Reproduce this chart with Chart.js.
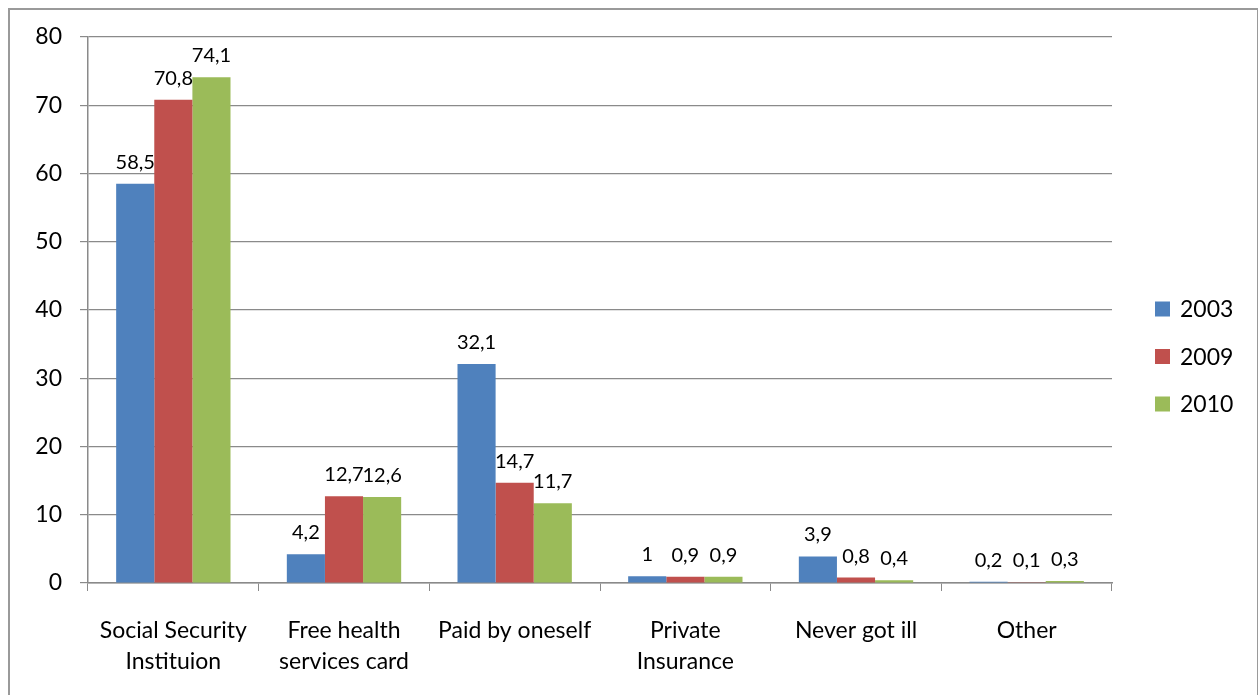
<!DOCTYPE html>
<html>
<head>
<meta charset="utf-8">
<script src="https://cdn.jsdelivr.net/npm/chart.js@4/dist/chart.umd.min.js"></script>
<style>
  body { margin: 0; background: #fff; }
  #wrap { position: relative; width: 1258px; height: 695px; overflow: hidden; }
  #frame { position: absolute; left: 8px; top: 8px; width: 1247px; height: 700px; border: 2px solid #9a9a9a; }
  canvas { position: absolute; left: 0; top: 0; }
</style>
</head>
<body>
<div id="wrap">
  <div id="frame"></div>
  <canvas id="chart" width="1258" height="695"></canvas>
</div>
<script>
const categories = [
    ['Social Security', 'Instituion'],
    ['Free health', 'services card'],
    'Paid by oneself',
    ['Private', 'Insurance'],
    'Never got ill',
    'Other'
]
const years = ['2003', '2009', '2010']
const values2003 = [58.5, 4.2, 32.1, 1, 3.9, 0.2]
const values2009 = [70.8, 12.7, 14.7, 0.9, 0.8, 0.1]
const values2010 = [74.1, 12.6, 11.7, 0.9, 0.4, 0.3]
const colors = ['#4F81BD', '#C0504D', '#9BBB59']
const yTicks = [0, 10, 20, 30, 40, 50, 60, 70, 80]

const FONT = 'Lato, "Open Sans", sans-serif'
const gridColor = '#8a8a8a'

// labels above each bar, decimal comma like the source
const barLabels = {
    id: 'barLabels',
    afterDatasetsDraw(chart) {
        const ctx = chart.ctx
        ctx.save()
        ctx.font = `20px ${FONT}`
        ctx.fillStyle = '#000'
        ctx.textAlign = 'center'
        ctx.textBaseline = 'alphabetic'
        chart.data.datasets.forEach((ds, i) => {
            chart.getDatasetMeta(i).data.forEach((bar, j) => {
                const txt = String(ds.data[j]).replace('.', ',')
                ctx.fillText(txt, bar.x, bar.y - 15)
            })
        })
        ctx.restore()
    }
}

// legend drawn at right, vertically stacked
const sideLegend = {
    id: 'sideLegend',
    afterDraw(chart) {
        const ctx = chart.ctx
        ctx.save()
        ctx.font = `23px ${FONT}`
        ctx.textBaseline = 'middle'
        chart.data.datasets.forEach((ds, i) => {
            const y = 309 + i * 47.5
            ctx.fillStyle = ds.backgroundColor
            ctx.fillRect(1155, y - 7.5, 15, 15)
            ctx.fillStyle = '#000'
            ctx.fillText(ds.label, 1180, y + 1)
        })
        ctx.restore()
    }
}

const ctx = document.getElementById('chart').getContext('2d')
const chart = new Chart(ctx, {
    type: 'bar',
    data: {
        labels: categories,
        datasets: [values2003, values2009, values2010].map((vals, i) => ({
            label: years[i],
            data: vals,
            backgroundColor: colors[i],
            borderWidth: 0,
            categoryPercentage: 0.67,
            barPercentage: 1
        }))
    },
    options: {
        responsive: false,
        animation: false,
        layout: { padding: { top: 37, right: 146, left: 0, bottom: 0 } },
        plugins: {
            legend: { display: false },
            tooltip: { enabled: false }
        },
        scales: {
            x: {
                afterFit: (s) => { s.height = 112 },
                grid: {
                    offset: true,
                    drawOnChartArea: false,
                    color: gridColor,
                    tickLength: 8
                },
                border: { color: gridColor, width: 1.5 },
                ticks: {
                    color: '#000',
                    padding: 24,
                    maxRotation: 0,
                    autoSkip: false,
                    font: { family: FONT, size: 23, lineHeight: 1.35 }
                }
            },
            y: {
                min: 0,
                max: 80,
                afterFit: (s) => { s.width = 88 },
                afterBuildTicks: (s) => { s.ticks = yTicks.map(v => ({ value: v })) },
                grid: { color: gridColor, tickLength: 8, lineWidth: 1.2 },
                border: { color: gridColor, width: 1.5 },
                ticks: {
                    color: '#000',
                    padding: 18,
                    font: { family: FONT, size: 23 }
                }
            }
        }
    },
    plugins: [barLabels, sideLegend]
})
</script>
</body>
</html>
